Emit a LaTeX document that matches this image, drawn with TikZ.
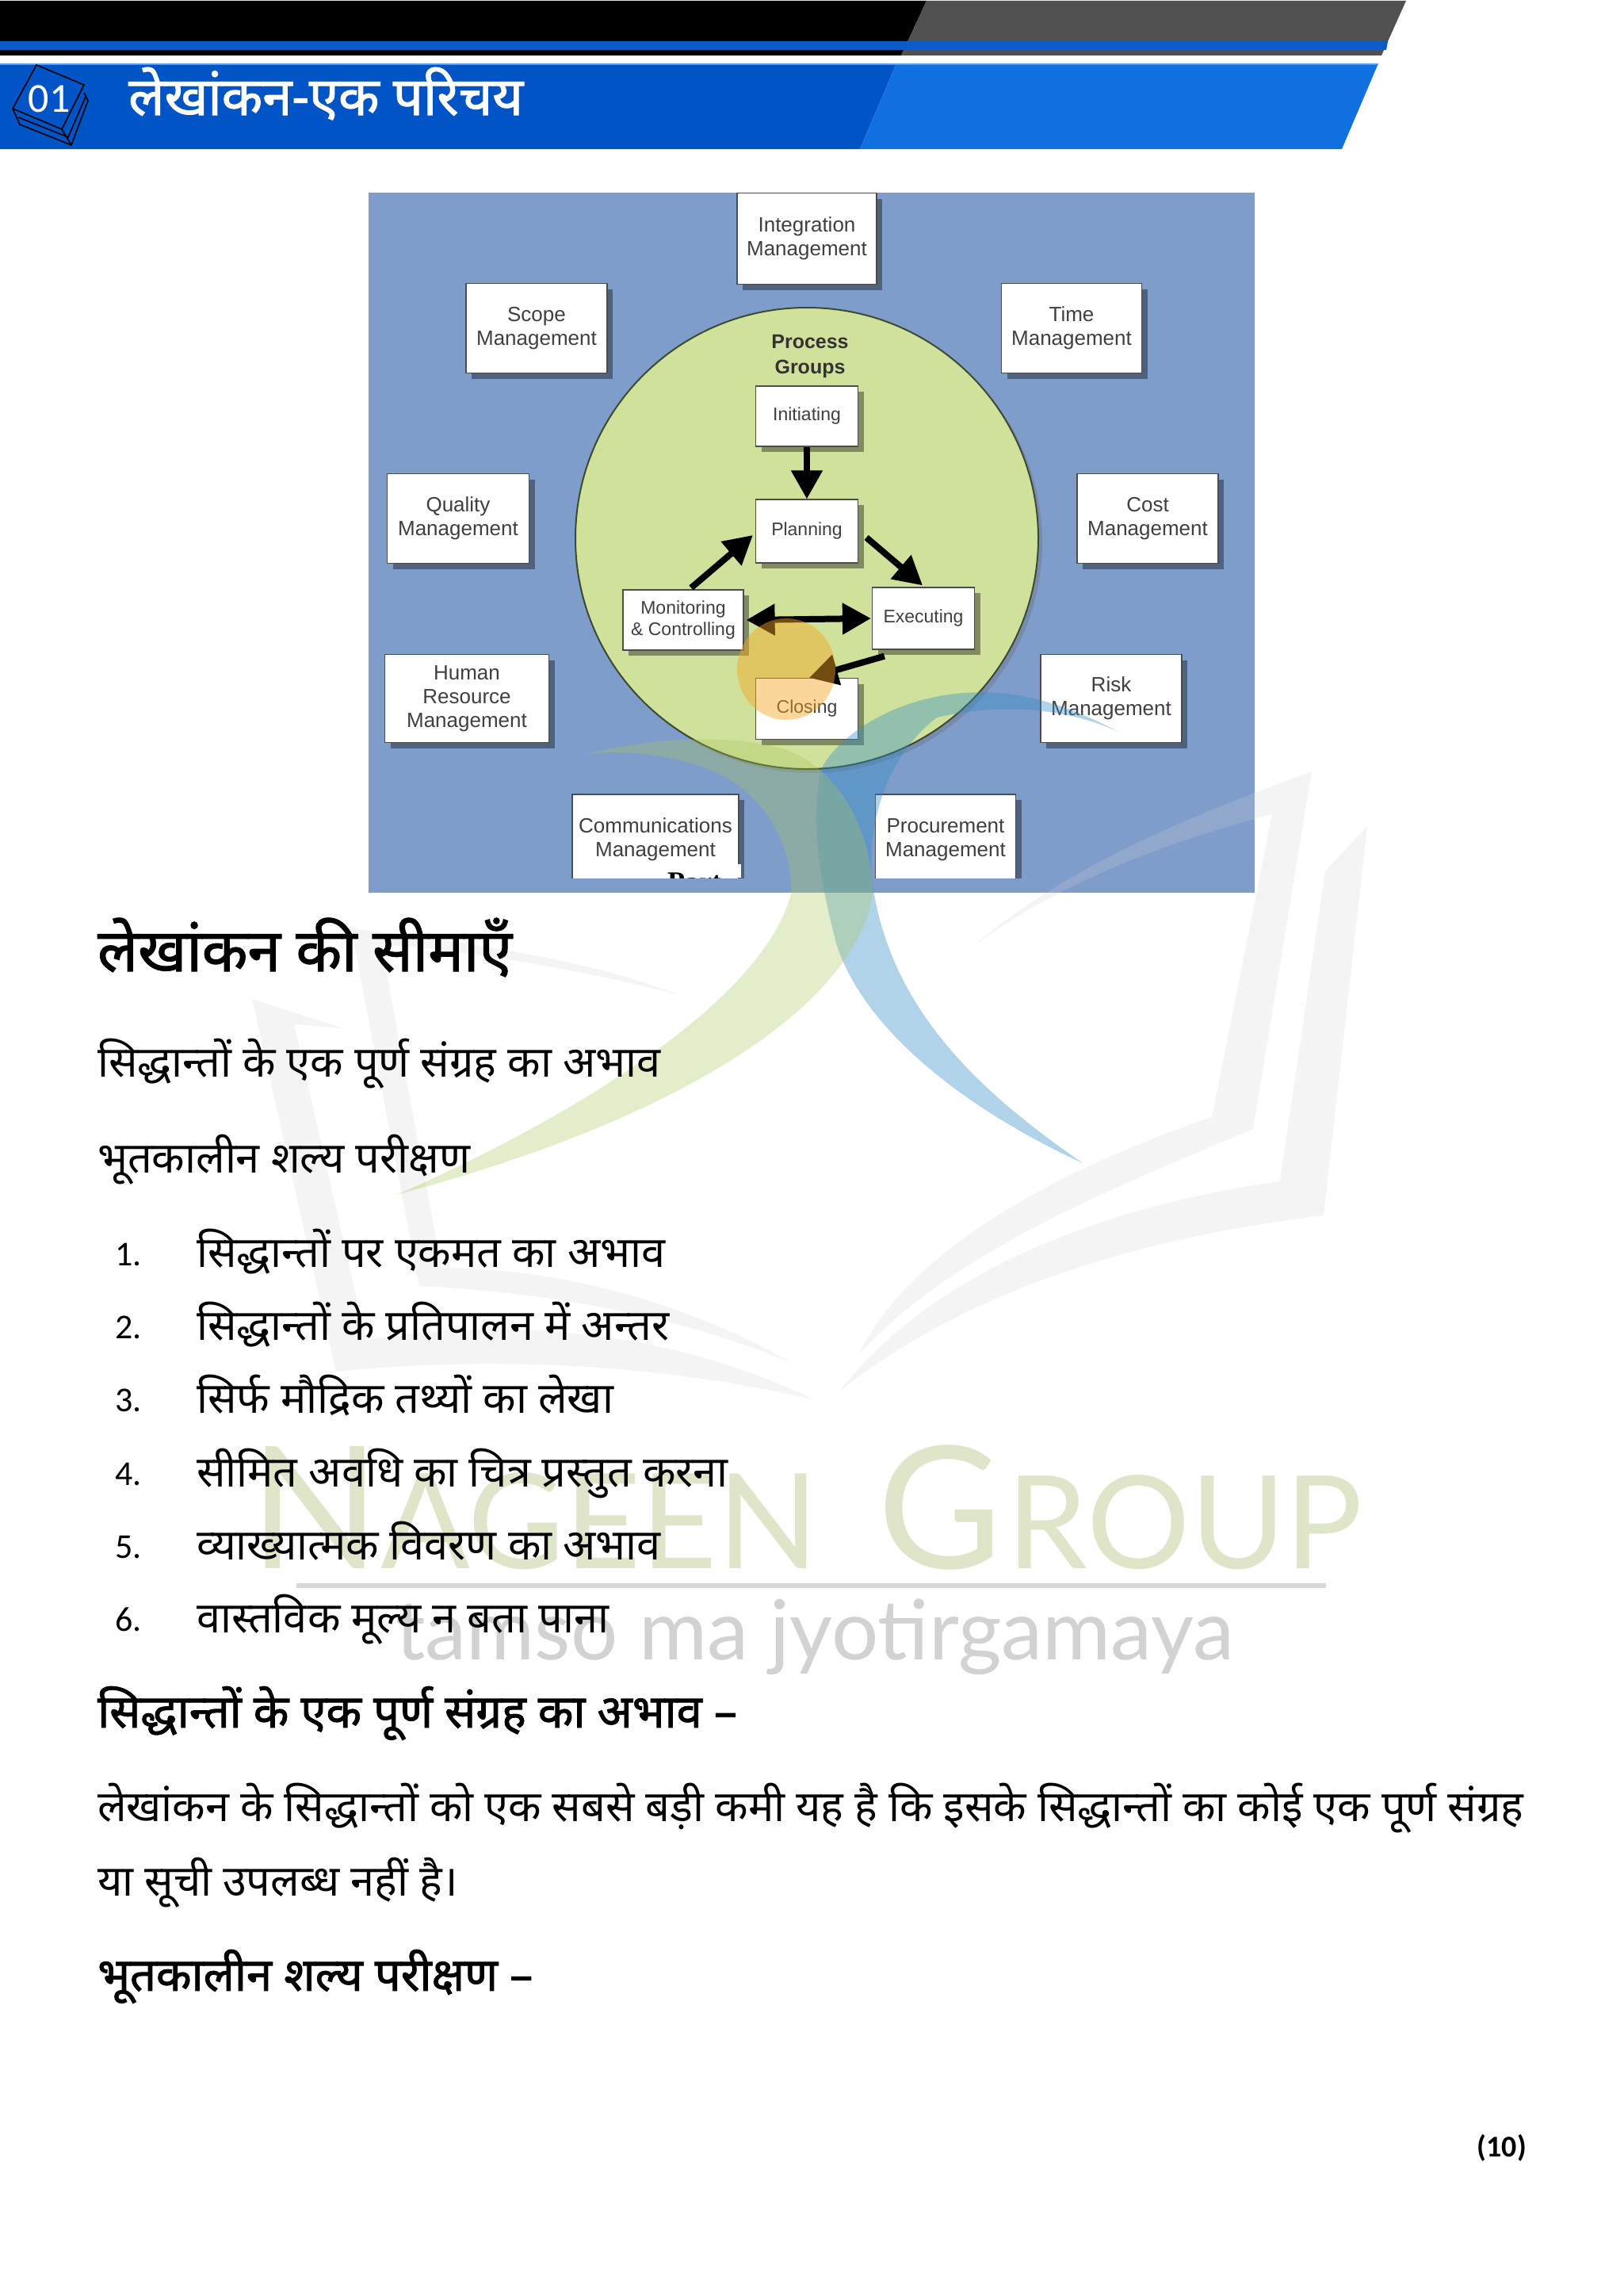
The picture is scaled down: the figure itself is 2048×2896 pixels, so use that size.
\documentclass[tikz,border=0pt]{standalone}
\usepackage{fontspec}
\usetikzlibrary{shadows,arrows.meta}
\setmainfont{Liberation Sans}
\newfontfamily\hin[Script=Devanagari]{Noto Sans}
\newfontfamily\hinb[Script=Devanagari,FakeBold=1.6]{Noto Sans}
\newfontfamily\car{Carlito}
\newfontfamily\lat{Lato}
\newfontfamily\lib{Liberation Sans}
\newfontfamily\libs{Liberation Serif}
\definecolor{imgblue}{HTML}{7F9DCB}
\definecolor{ellg}{HTML}{CFE19B}
\definecolor{elld}{HTML}{3C4A30}
\definecolor{boxtxt}{HTML}{3F3F3F}
\definecolor{wmgreen}{HTML}{DFE5C8}
\definecolor{wmgray}{HTML}{D2D2D2}
\definecolor{hblue}{HTML}{0054C6}
\definecolor{hlight}{HTML}{1170E0}
\definecolor{stripe}{HTML}{0A5AC8}
\definecolor{hgray}{HTML}{505050}
\definecolor{swgreen}{RGB}{170,200,90}
\definecolor{swblue}{RGB}{50,140,200}
\definecolor{dotor}{RGB}{245,166,35}
\tikzset{x=1pt,y=-1pt,
 mbox/.style={draw=black!70,line width=1.2pt,fill=white,inner sep=0pt,align=center,text=boxtxt,
   font=\lib\fontsize{26}{30}\selectfont,
   drop shadow={shadow xshift=7pt,shadow yshift=-7pt,fill=black,opacity=.38}},
 pbox/.style={mbox,font=\lib\fontsize{23}{27}\selectfont},
 flow/.style={line width=8pt,-{Triangle[length=36pt,width=38pt]}},
 flowb/.style={line width=8pt,{Triangle[length=36pt,width=38pt]}-{Triangle[length=36pt,width=38pt]}},
 band/.style={fill=black!18,fill opacity=.22,draw=none},
 txt/.style={anchor=base west,inner sep=0pt,text=black,font=\hin\fontsize{54}{60}\selectfont},
 btxt/.style={txt,font=\hinb\fontsize{58}{64}\selectfont},
 num/.style={anchor=base west,inner sep=0pt,text=black,font=\car\fontsize{44}{50}\selectfont},
}
\begin{document}
\begin{tikzpicture}
\useasboundingbox (0,0) rectangle (2048,2896);
\fill[white] (0,0) rectangle (2048,2896);
% header
\fill[black] (0,1) -- (1169,1) -- (1137,70) -- (0,70) -- cycle;
\fill[hgray] (1169,1) -- (1774,1) -- (1743,70) -- (1137,70) -- cycle;
\fill[stripe] (0,52) -- (1751,52) -- (1749,63) -- (0,63) -- cycle;
\fill[hblue] (0,80) -- (1131,80) -- (1085,188) -- (0,188) -- cycle;
\fill[hlight] (1131,80) -- (1739,80) -- (1693,188) -- (1085,188) -- cycle;
\draw[hlight!70!white,line width=2pt] (0,81) -- (1739,81);
% book icon
\draw[black,line width=1.6pt] (46,82) -- (106,107) -- (78,163) -- (16,137) -- cycle;
\draw[black,line width=1.6pt] (106,117) -- (111,127) -- (90,183) -- (25,157) -- (16,137);
\draw[black,line width=1.6pt] (23,148) -- (86,173) -- (108,122);
\draw[black,line width=1.6pt] (78,163) -- (90,183);
\node[text=white,font=\car\fontsize{52}{60}\selectfont,inner sep=0pt] (num01) at (62,125) {01};
\node[anchor=base west,inner sep=0pt,text=white,font=\hinb\fontsize{67}{72}\selectfont] (title) at (162,145) {लेखांकन-एक परिचय};
% image
\fill[imgblue] (465,243) rectangle (1583,1126);
\begin{scope}
\clip (465,243) rectangle (1583,1107);
\fill[black!60,opacity=.3] (1023,684) circle [x radius=292,y radius=291];
\draw[draw=elld,fill=ellg,line width=2pt] (1018,679) circle [x radius=292,y radius=291];
\node[mbox,minimum width=176pt,minimum height=115pt] (integ) at (1018,301) {Integration\\Management};
\node[mbox,minimum width=178pt,minimum height=113pt] (scope) at (677,414) {Scope\\Management};
\node[mbox,minimum width=177pt,minimum height=113pt] (time) at (1352,414) {Time\\Management};
\node[mbox,minimum width=179pt,minimum height=113pt] (qual) at (578,654) {Quality\\Management};
\node[mbox,minimum width=178pt,minimum height=113pt] (cost) at (1448,654) {Cost\\Management};
\node[mbox,minimum width=207pt,minimum height=111pt] (hr) at (589,881) {Human\\Resource\\Management};
\node[mbox,minimum width=178pt,minimum height=111pt] (risk) at (1402,881) {Risk\\Management};
\node[mbox,minimum width=210pt,minimum height=130pt] (comm) at (827,1067) {};
\node[mbox,minimum width=177pt,minimum height=130pt] (proc) at (1193,1067) {};
\fill[white] (930,1090) rectangle (935,1107);
\node[inner sep=0pt,align=center,text=boxtxt,font=\lib\fontsize{26}{30}\selectfont] (commt) at (827,1059) {Communications\\Management};
\node[inner sep=0pt,align=center,text=boxtxt,font=\lib\fontsize{26}{30}\selectfont] (proct) at (1193,1059) {Procurement\\Management};
\node[anchor=base,inner sep=0pt,text=black,font=\libs\bfseries\fontsize{36}{40}\selectfont] (partt) at (876,1124) {Part};
\node[inner sep=0pt,align=center,text=black!80,font=\lib\bfseries\fontsize{25}{32}\selectfont] (pg) at (1022,449) {Process\\Groups};
\node[pbox,minimum width=129pt,minimum height=76pt] (init) at (1018,525) {Initiating};
\node[pbox,minimum width=129pt,minimum height=80pt] (plan) at (1018,670) {Planning};
\node[pbox,minimum width=152pt,minimum height=76pt] (moni) at (862,782) {Monitoring\\\& Controlling};
\node[pbox,minimum width=129pt,minimum height=78pt] (exec) at (1165,780) {Executing};
\node[pbox,minimum width=129pt,minimum height=77pt] (clos) at (1018,894) {Closing};
\draw[flow] (init.south) -- (plan.north);
\draw[flow] ([shift={(10pt,2pt)}]moni.north) -- ([xshift=-3pt,yshift=-5pt]plan.west);
\draw[flow] ([xshift=10pt,yshift=-8pt]plan.east) -- ([xshift=-1pt,yshift=2pt]exec.north);
\draw[flowb] ([xshift=3pt]moni.east) -- ([xshift=-1pt]exec.west);
\draw[flow] ([shift={(16pt,-8pt)}]exec.south west) -- ([shift={(3pt,0pt)}]clos.north);
\end{scope}
% watermark: book
\fill[band] (1227,1194) .. controls (1350,1090) and (1500,1030) .. (1655,973) -- (1581,1424) .. controls (1400,1500) and (1200,1580) .. (1084,1708) .. controls (1150,1570) and (1350,1470) .. (1529,1409) -- (1605,1027) .. controls (1480,1060) and (1340,1110) .. (1227,1194) -- cycle;
\fill[band] (1725,1042) -- (1670,1533) .. controls (1450,1560) and (1230,1620) .. (1060,1754) .. controls (1180,1600) and (1400,1520) .. (1615,1490) -- (1672,1099) -- cycle;
\fill[band] (318,1260) -- (433,1297) -- (371,1292) -- (462,1690) .. controls (650,1660) and (850,1680) .. (1026,1765) .. controls (830,1720) and (620,1710) .. (424,1730) -- cycle;
\fill[band] (443,1171) .. controls (600,1190) and (740,1210) .. (854,1254) .. controls (740,1225) and (600,1200) .. (481,1191) -- (557,1599) .. controls (720,1600) and (880,1650) .. (998,1719) .. controls (860,1660) and (690,1630) .. (529,1622) -- cycle;
% watermark: swooshes
\fill[swblue,fill opacity=.38] (1411,923) .. controls (1330,880) and (1270,870) .. (1217,874) .. controls (1130,880) and (1060,925) .. (1036,970) .. controls (1020,1050) and (1040,1130) .. (1055,1190) .. controls (1090,1300) and (1220,1400) .. (1366,1467) .. controls (1240,1380) and (1130,1280) .. (1103,1128) .. controls (1090,1060) and (1110,960) .. (1182,905) .. controls (1270,885) and (1350,895) .. (1411,923) -- cycle;
\fill[swgreen,fill opacity=.32] (737,952) .. controls (820,930) and (920,925) .. (990,945) .. controls (1060,970) and (1100,1050) .. (1101,1126) .. controls (1085,1250) and (900,1400) .. (500,1507) .. controls (700,1420) and (960,1270) .. (998,1128) .. controls (1000,1060) and (960,990) .. (880,965) .. controls (830,950) and (780,945) .. (737,952) -- cycle;
\fill[dotor,fill opacity=.46] (992,844) circle [x radius=62,y radius=64];
% watermark: text
\node[anchor=base west,inner sep=0pt,text=wmgreen,font=\lat\fontsize{215}{220}\selectfont] (wmn) at (315,1978) {N};
\node[anchor=base west,inner sep=0pt,text=wmgreen,font=\lat\fontsize{167}{170}\selectfont] (wma) at (480,1978) {AGEEN};
\node[anchor=base west,inner sep=0pt,text=wmgreen,font=\lat\fontsize{215}{220}\selectfont] (wmg) at (1107,1978) {G};
\node[anchor=base west,inner sep=0pt,text=wmgreen,font=\lat\fontsize{163}{170}\selectfont] (wmr) at (1270,1978) {ROUP};
\fill[black!15] (374,1997) rectangle (1673,2003);
\node[anchor=base west,inner sep=0pt,text=wmgray,font=\lat\fontsize{104.7}{110}\selectfont] (wmt) at (499,2093) {tamso ma jyotirgamaya};
% text
\node[btxt,font=\hinb\fontsize{75}{80}\selectfont] (h1) at (123,1225) {लेखांकन की सीमाएँ};
\node[txt] (l1) at (123,1358) {सिद्धान्तों के एक पूर्ण संग्रह का अभाव};
\node[txt] (l2) at (123,1479) {भूतकालीन शल्य परीक्षण};
\node[num] (n1) at (145,1596) {1.}; \node[txt] (t1) at (248,1598) {सिद्धान्तों पर एकमत का अभाव};
\node[num] (n2) at (145,1688) {2.}; \node[txt] (t2) at (248,1690) {सिद्धान्तों के प्रतिपालन में अन्तर};
\node[num] (n3) at (145,1780) {3.}; \node[txt] (t3) at (248,1782) {सिर्फ मौद्रिक तथ्यों का लेखा};
\node[num] (n4) at (145,1873) {4.}; \node[txt] (t4) at (248,1875) {सीमित अवधि का चित्र प्रस्तुत करना};
\node[num] (n5) at (145,1965) {5.}; \node[txt] (t5) at (248,1967) {व्याख्यात्मक विवरण का अभाव};
\node[num] (n6) at (145,2057) {6.}; \node[txt] (t6) at (248,2059) {वास्तविक मूल्य न बता पाना};
\node[btxt] (s1) at (123,2179) {सिद्धान्तों के एक पूर्ण संग्रह का अभाव –};
\node[txt] (p1) at (123,2297) {लेखांकन के सिद्धान्तों को एक सबसे बड़ी कमी यह है कि इसके सिद्धान्तों का कोई एक पूर्ण संग्रह};
\node[txt] (p2) at (123,2391) {या सूची उपलब्ध नहीं है।};
\node[btxt] (s2) at (123,2511) {भूतकालीन शल्य परीक्षण –};
\node[anchor=base east,inner sep=0pt,text=black,font=\car\bfseries\fontsize{38}{44}\selectfont] (pn) at (1926,2720) {(10)};
\end{tikzpicture}
\end{document}
